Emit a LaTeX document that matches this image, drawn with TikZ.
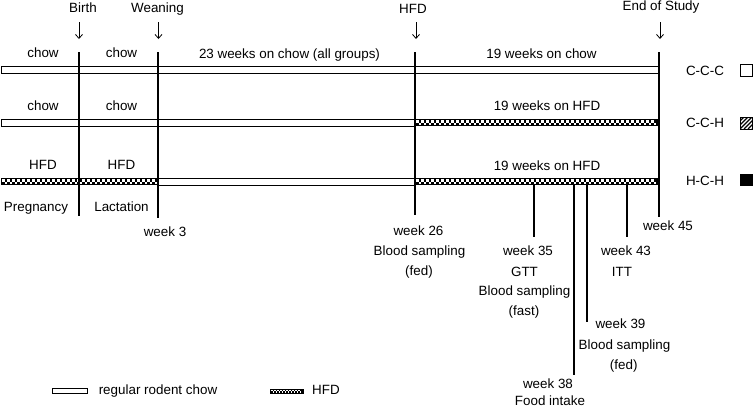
\documentclass[tikz,border=0pt]{standalone}
\usepackage{fontspec}
\setmainfont{Liberation Sans}
\usetikzlibrary{arrows.meta}
\newcommand\hfdbar[4]{% x1, x2, y centre, half height
  \pgfmathsetmacro\hs{#4-1}%
  \fill[black] (#1,#3-#4) rectangle (#2,#3+#4);
  \pgfmathsetmacro\hxa{#1+1}\pgfmathsetmacro\hxb{#1+1+2*\hs}\pgfmathsetmacro\hxe{#2-1-2*\hs}%
  \foreach \x in {\hxa,\hxb,...,\hxe}{%
    \fill[white] (\x,#3-\hs) rectangle ++(\hs,\hs);
    \fill[white] (\x+\hs,#3) rectangle ++(\hs,\hs);}}
\begin{document}
\begin{tikzpicture}[x=1pt,y=-1pt,
  lbl/.style={anchor=base,inner sep=0pt,font=\fontsize{13.4}{16}\selectfont},
  vline/.style={line width=1.6pt},
  chowbar/.style={draw=black,fill=white,line width=0.8pt},
  arr/.style={-{Straight Barb[length=4pt,width=7pt]},line width=0.8pt}]
\useasboundingbox[fill=white] (0,0) rectangle (754,408);

% bars
\draw[chowbar] (1,66.5) rectangle (659,73.5);
\draw[chowbar] (1,119) rectangle (415,126);
\hfdbar{415}{659}{122.5}{3.5}
\hfdbar{1}{158}{181.5}{3.5}
\draw[chowbar] (158,178) rectangle (415,185);
\hfdbar{415}{659}{181.5}{3.5}

% main vertical lines
\coordinate (birthT) at (79,52);   \coordinate (birthB) at (79,216);
\coordinate (weanT) at (158,52);   \coordinate (weanB) at (158,218);
\coordinate (hfdT) at (415,52);    \coordinate (hfdB) at (415,215);
\coordinate (endT) at (659,52);    \coordinate (endB) at (659,217);
\draw[vline] (birthT) -- (birthB);
\draw[vline] (weanT) -- (weanB);
\draw[vline] (hfdT) -- (hfdB);
\draw[vline] (endT) -- (endB);

% event lines
\coordinate (w35T) at (534,185); \coordinate (w35B) at (534,237);
\coordinate (w38T) at (574,185); \coordinate (w38B) at (574,375);
\coordinate (w39T) at (587,185); \coordinate (w39B) at (587,322);
\coordinate (w43T) at (627,185); \coordinate (w43B) at (627,237);
\draw[vline] (w35T) -- (w35B);
\draw[vline] (w38T) -- (w38B);
\draw[vline] (w39T) -- (w39B);
\draw[vline] (w43T) -- (w43B);

% arrows and top labels
\node[lbl] (birth) at (83,12.7) {Birth};
\node[lbl] (wean) at (157.5,12.5) {Weaning};
\node[lbl] (hfdtop) at (413,13.3) {HFD};
\node[lbl] (endst) at (661,10) {End of Study};
\coordinate (a1s) at (79,22);  \coordinate (a1e) at (79,39);
\coordinate (a2s) at (158.5,22); \coordinate (a2e) at (158.5,39);
\coordinate (a3s) at (416,22); \coordinate (a3e) at (416,39);
\coordinate (a4s) at (660,22); \coordinate (a4e) at (660,39);
\draw[arr] (a1s) -- (a1e);
\draw[arr] (a2s) -- (a2e);
\draw[arr] (a3s) -- (a3e);
\draw[arr] (a4s) -- (a4e);

% row labels
\node[lbl] (c1a) at (43,57) {chow};
\node[lbl] (c1b) at (121.5,57) {chow};
\node[lbl] (c1c) at (289.5,58) {23 weeks on chow (all groups)};
\node[lbl] (c1d) at (541.5,58) {19 weeks on chow};
\node[lbl] (c2a) at (43,110) {chow};
\node[lbl] (c2b) at (121.5,110) {chow};
\node[lbl] (c2d) at (547,110) {19 weeks on HFD};
\node[lbl] (c3a) at (43,169.5) {HFD};
\node[lbl] (c3b) at (121.5,169.5) {HFD};
\node[lbl] (c3d) at (547,170) {19 weeks on HFD};
\node[lbl] (preg) at (36,211) {Pregnancy};
\node[lbl] (lact) at (121.5,211) {Lactation};

% group labels
\node[lbl] (ccc) at (705,75) {C-C-C};
\node[lbl] (cch) at (705,127.5) {C-C-H};
\node[lbl] (hch) at (705,185.5) {H-C-H};
\draw[line width=0.8pt] (740,64) rectangle (752,76);
\begin{scope}
  \clip (740,117) rectangle (752,129);
  \foreach \k in {0,4,8,12,16,20,24} {\draw[line width=1.3pt] (740+\k-12,129) -- (740+\k,117);}
\end{scope}
\draw[line width=0.8pt] (740,117) rectangle (752,129);
\fill[black] (740,174) rectangle (753,186);

% week labels
\node[lbl] (wk3) at (165,236.7) {week 3};
\node[lbl] (wk26) at (418.5,235) {week 26};
\node[lbl] (wk26b) at (419.5,255) {Blood sampling};
\node[lbl] (wk26c) at (419,275) {(fed)};
\node[lbl] (wk35) at (528,255) {week 35};
\node[lbl] (wk35b) at (524.5,276) {GTT};
\node[lbl] (wk35c) at (524.5,295.5) {Blood sampling};
\node[lbl] (wk35d) at (524,315.5) {(fast)};
\node[lbl] (wk45) at (668,230) {week 45};
\node[lbl] (wk43) at (626,255) {week 43};
\node[lbl] (wk43b) at (622,276) {ITT};
\node[lbl] (wk39) at (620.5,328) {week 39};
\node[lbl] (wk39b) at (624.5,349) {Blood sampling};
\node[lbl] (wk39c) at (623.7,369) {(fed)};
\node[lbl] (wk38) at (548,388.5) {week 38};
\node[lbl] (wk38b) at (550,405.5) {Food intake};

% legend
\draw[chowbar] (52,388) rectangle (87,393);
\node[lbl] (legc) at (158,394) {regular rodent chow};
\hfdbar{270}{304}{391}{2.5}
\node[lbl] (legh) at (326,394) {HFD};
\end{tikzpicture}
\end{document}
